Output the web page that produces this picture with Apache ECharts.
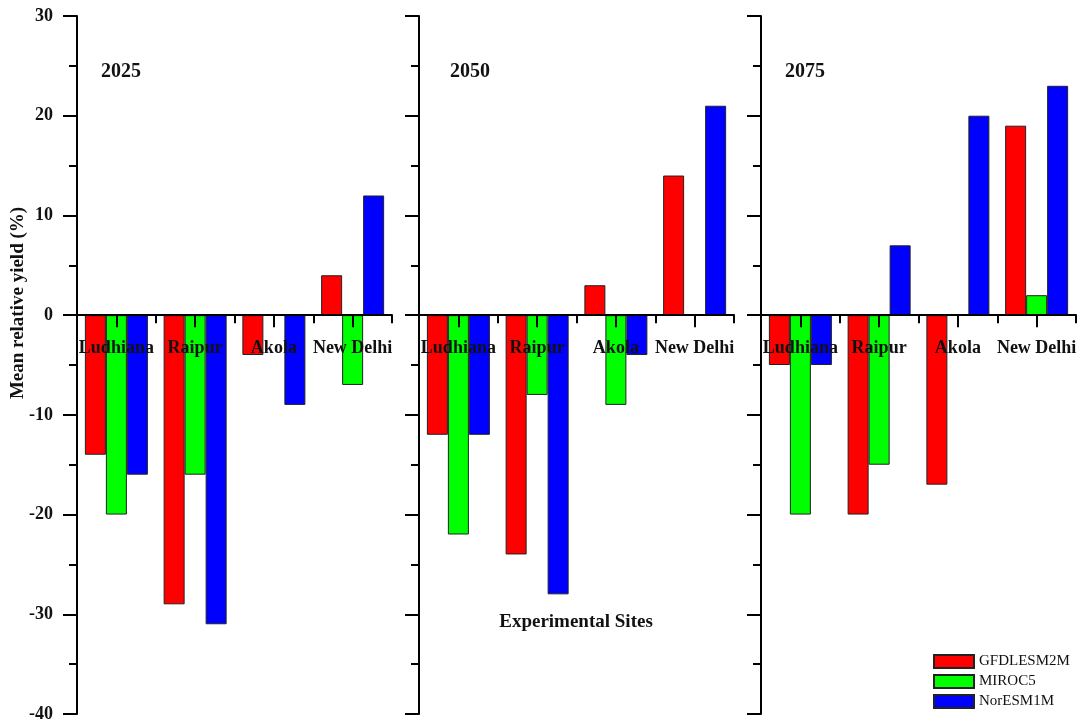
<!DOCTYPE html>
<html>
<head>
<meta charset="utf-8">
<script src="https://cdn.jsdelivr.net/npm/echarts@6/dist/echarts.min.js"></script>
<style>
  html, body { margin: 0; padding: 0; background: #fff; }
  #chart { width: 1083px; height: 725px; }
</style>
</head>
<body>
<div id="chart"></div>
<script>
// Sites, time slices and climate models
const sites = ['Ludhiana', 'Raipur', 'Akola', 'New Delhi'];
const periods = ['2025', '2050', '2075'];
const models = ['GFDLESM2M', 'MIROC5', 'NorESM1M'];

// Mean relative yield (%) per site, one array per model and period
const gfdl2025 = [-14, -29, -4, 4];
const miroc2025 = [-20, -16, 0, -7];
const nor2025 = [-16, -31, -9, 12];

const gfdl2050 = [-12, -24, 3, 14];
const miroc2050 = [-22, -8, -9, 0];
const nor2050 = [-12, -28, -4, 21];

const gfdl2075 = [-5, -20, -17, 19];
const miroc2075 = [-20, -15, 0, 2];
const nor2075 = [-5, 7, 20, 23];

// Y axis ticks
const yMin = -40, yMax = 30, yStep = 10;

const panelValues = [
  [gfdl2025, miroc2025, nor2025],
  [gfdl2050, miroc2050, nor2050],
  [gfdl2075, miroc2075, nor2075]
];
const modelColors = ['#ff0000', '#00ff00', '#0000ff'];

const serif = "'Liberation Serif', 'Times New Roman', serif";
const ink = '#111111';

const panelLefts = [77, 419, 761];
const panelWidth = 315;

const grids = [], xAxes = [], yAxes = [], series = [];

panelLefts.forEach(function (left, k) {
  grids.push({
    left: left, top: 16, width: panelWidth, height: 698,
    containLabel: false, outerBoundsMode: 'none'
  });

  // main site axis on the zero line: short ticks between sites
  xAxes.push({
    type: 'category', gridIndex: k, data: sites, z: 10, position: 'bottom',
    axisLine: { onZero: true, onZeroAxisIndex: k, lineStyle: { color: '#000', width: 2 } },
    axisTick: { show: true, length: 8, lineStyle: { color: '#000', width: 2 } },
    axisLabel: { show: false },
    splitLine: { show: false }
  });
  // companion axis: long ticks under each site
  xAxes.push({
    type: 'category', gridIndex: k, data: sites, z: 10, position: 'bottom',
    axisLine: { show: false, onZero: true, onZeroAxisIndex: k },
    axisTick: { show: true, alignWithLabel: true, length: 12, lineStyle: { color: '#000', width: 2 } },
    axisLabel: { show: false },
    splitLine: { show: false }
  });

  yAxes.push({
    type: 'value', gridIndex: k, min: yMin, max: yMax, interval: yStep,
    axisLine: { show: true, lineStyle: { color: '#000', width: 2 } },
    axisTick: { show: true, length: 14, lineStyle: { color: '#000', width: 2 } },
    minorTick: { show: true, splitNumber: 2, length: 8, lineStyle: { color: '#000', width: 2 } },
    splitLine: { show: false },
    minorSplitLine: { show: false },
    axisLabel: {
      show: k === 0, margin: 24, fontFamily: serif, fontWeight: 'bold',
      fontSize: 18, color: ink
    }
  });

  models.forEach(function (name, m) {
    series.push({
      type: 'bar', name: name,
      xAxisIndex: 2 * k, yAxisIndex: k,
      data: panelValues[k][m],
      barGap: '0%', barCategoryGap: '20%',
      itemStyle: { color: modelColors[m], borderColor: '#222', borderWidth: 1 },
      emphasis: { disabled: true }
    });
  });

  // site names just under the zero line, drawn over the bars
  series.push({
    type: 'scatter', name: 'sites-' + periods[k],
    xAxisIndex: 2 * k, yAxisIndex: k,
    symbolSize: 0, silent: true, z: 20,
    data: sites.map(function (s, i) { return { name: s, value: [i, 0] }; }),
    label: {
      show: true, position: 'bottom', distance: 24, formatter: '{b}',
      fontFamily: serif, fontWeight: 'bold', fontSize: 18, color: ink,
      textBorderWidth: 0, opacity: 1
    },
    emphasis: { disabled: true }
  });
});

const yearLabelPos = [[101, 72], [450, 72], [785, 72]];
const graphics = periods.map(function (p, k) {
  return {
    type: 'text', x: yearLabelPos[k][0], y: yearLabelPos[k][1],
    style: {
      text: p, font: 'bold 20px ' + serif, fill: ink,
      textAlign: 'left', textVerticalAlign: 'middle'
    }
  };
});
graphics.push({
  type: 'text', x: 18, y: 303, rotation: Math.PI / 2,
  style: {
    text: 'Mean relative yield (%)', font: 'bold 19px ' + serif, fill: ink,
    textAlign: 'center', textVerticalAlign: 'middle'
  }
});
graphics.push({
  type: 'text', x: 576, y: 622,
  style: {
    text: 'Experimental Sites', font: 'bold 19px ' + serif, fill: ink,
    textAlign: 'center', textVerticalAlign: 'middle'
  }
});

const chart = echarts.init(document.getElementById('chart'), null, { renderer: 'canvas' });
chart.setOption({
  animation: false,
  backgroundColor: '#ffffff',
  grid: grids,
  xAxis: xAxes,
  yAxis: yAxes,
  series: series,
  graphic: graphics,
  legend: {
    data: models,
    orient: 'vertical',
    left: 928, top: 649,
    itemWidth: 40, itemHeight: 13, itemGap: 5,
    icon: 'rect',
    textStyle: { fontFamily: serif, fontSize: 15, color: ink }
  }
});
</script>
</body>
</html>
